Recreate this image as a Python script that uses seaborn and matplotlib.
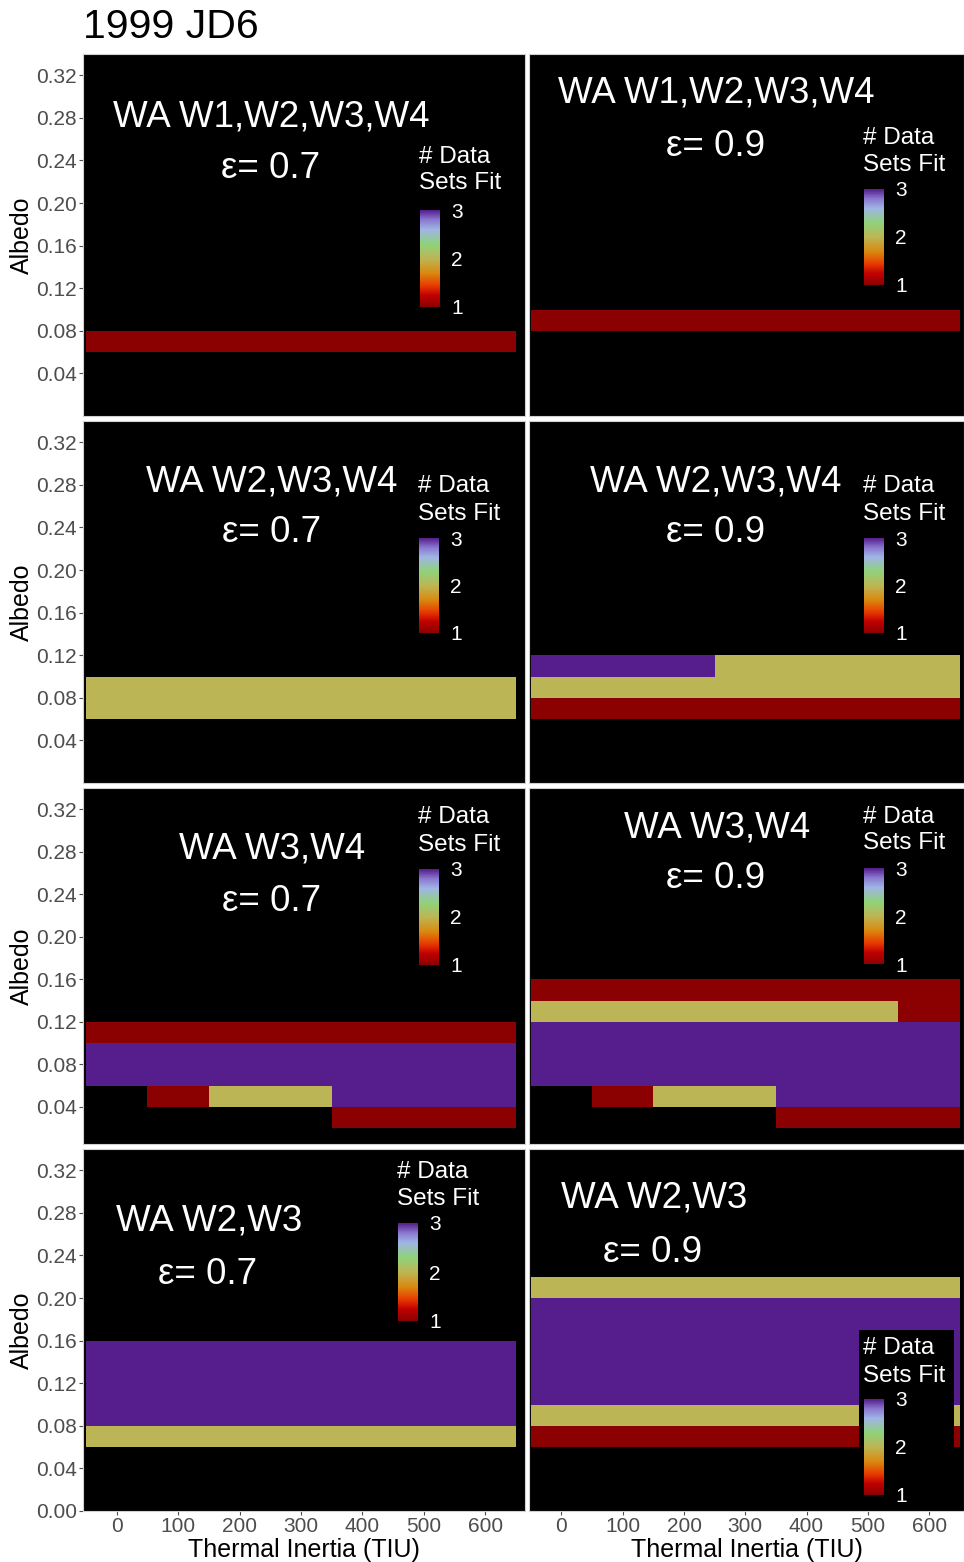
import numpy as np
import pandas as pd
import matplotlib
matplotlib.use("Agg")
import matplotlib.pyplot as plt
import seaborn as sns
from matplotlib.colors import LinearSegmentedColormap
from matplotlib.patches import Rectangle

sns.set_theme(style="white")
plt.rcParams["font.family"] = ["Liberation Sans", "DejaVu Sans"]

# ---------------- data ----------------
TI = [0, 100, 200, 300, 400, 500, 600]
ALBEDO = [0.01, 0.03, 0.05, 0.07, 0.09, 0.11, 0.13, 0.15, 0.17,
          0.19, 0.21, 0.23, 0.25, 0.27, 0.29, 0.31, 0.33]
Y_TICKS_UPPER = [0.04, 0.08, 0.12, 0.16, 0.20, 0.24, 0.28, 0.32]
Y_TICKS_BOTTOM = [0.00, 0.04, 0.08, 0.12, 0.16, 0.20, 0.24, 0.28, 0.32]
X_TICKS = [0, 100, 200, 300, 400, 500, 600]

# rows: albedo bin centre -> number of data sets fit for each TI column
W1234_e07 = {0.07: [1, 1, 1, 1, 1, 1, 1]}
W1234_e09 = {0.09: [1, 1, 1, 1, 1, 1, 1]}
W234_e07 = {0.07: [2, 2, 2, 2, 2, 2, 2],
            0.09: [2, 2, 2, 2, 2, 2, 2]}
W234_e09 = {0.07: [1, 1, 1, 1, 1, 1, 1],
            0.09: [2, 2, 2, 2, 2, 2, 2],
            0.11: [3, 3, 3, 2, 2, 2, 2]}
W34_e07 = {0.03: [0, 0, 0, 0, 1, 1, 1],
           0.05: [0, 1, 2, 2, 3, 3, 3],
           0.07: [3, 3, 3, 3, 3, 3, 3],
           0.09: [3, 3, 3, 3, 3, 3, 3],
           0.11: [1, 1, 1, 1, 1, 1, 1]}
W34_e09 = {0.03: [0, 0, 0, 0, 1, 1, 1],
           0.05: [0, 1, 2, 2, 3, 3, 3],
           0.07: [3, 3, 3, 3, 3, 3, 3],
           0.09: [3, 3, 3, 3, 3, 3, 3],
           0.11: [3, 3, 3, 3, 3, 3, 3],
           0.13: [2, 2, 2, 2, 2, 2, 1],
           0.15: [1, 1, 1, 1, 1, 1, 1]}
W23_e07 = {0.07: [2, 2, 2, 2, 2, 2, 2],
           0.09: [3, 3, 3, 3, 3, 3, 3],
           0.11: [3, 3, 3, 3, 3, 3, 3],
           0.13: [3, 3, 3, 3, 3, 3, 3],
           0.15: [3, 3, 3, 3, 3, 3, 3]}
W23_e09 = {0.07: [1, 1, 1, 1, 1, 1, 1],
           0.09: [2, 2, 2, 2, 2, 2, 2],
           0.11: [3, 3, 3, 3, 3, 3, 3],
           0.13: [3, 3, 3, 3, 3, 3, 3],
           0.15: [3, 3, 3, 3, 3, 3, 3],
           0.17: [3, 3, 3, 3, 3, 3, 3],
           0.19: [3, 3, 3, 3, 3, 3, 3],
           0.21: [2, 2, 2, 2, 2, 2, 2]}

BANDS = ["WA W1,W2,W3,W4", "WA W1,W2,W3,W4", "WA W2,W3,W4", "WA W2,W3,W4",
         "WA W3,W4", "WA W3,W4", "WA W2,W3", "WA W2,W3"]
EMISSIVITY = ["0.7", "0.9", "0.7", "0.9", "0.7", "0.9", "0.7", "0.9"]
PANEL_DATA = [W1234_e07, W1234_e09, W234_e07, W234_e09,
              W34_e07, W34_e09, W23_e07, W23_e09]

# ---------------- layout (pixels) ----------------
W, H = 964, 1562
ROWS = [(54, 416), (421, 783), (788, 1144), (1149, 1511)]
COLS = [(83, 525), (529, 964)]
YLIMS = [(0.0, 0.34), (0.0, 0.34), (0.005, 0.34), (0.0, 0.34)]
XLIMS = [(-55, 665), (-53, 657)]

# (band_x, band_y, eps_x, eps_y, legend_x, title_y1, title_y2, cb_top, cb_bot)
LAYOUT = [
    (271, 117, 271, 168, 419, 157, 183, 210, 307),
    (716, 93, 716, 146, 863, 138, 165, 189, 285),
    (272, 482, 272, 533, 418, 486, 514, 538, 633),
    (716, 482, 716, 533, 863, 486, 514, 538, 633),
    (272, 849, 272, 901, 418, 817, 845, 869, 965),
    (717, 828, 716, 879, 863, 817, 843, 868, 964),
    (209, 1221, 208, 1274, 397, 1172, 1199, 1223, 1321),
    (654, 1198, 653, 1252, 863, 1348, 1376, 1399, 1495),
]

cmap = LinearSegmentedColormap.from_list("fits", [
    (0.0, "#8B0000"), (0.12, "#C00000"), (0.22, "#E83A00"),
    (0.35, "#D98A10"), (0.5, "#BDB555"), (0.65, "#8FD27A"),
    (0.8, "#9FB5E5"), (0.9, "#8A78D0"), (1.0, "#561D8C")])

TICK_GRAY = "#4D4D4D"

fig = plt.figure(figsize=(W / 100, H / 100), dpi=100)


def fx(x):
    return x / W


def fy(y):
    return 1 - y / H


fig.text(fx(83), fy(27), "1999 JD6", fontsize=29.5, color="black",
         ha="left", va="center")

for k in range(8):
    r, c = k // 2, k % 2
    y0, y1 = ROWS[r]
    x0, x1 = COLS[c]
    ax = fig.add_axes([fx(x0), fy(y1), (x1 - x0) / W, (y1 - y0) / H])
    bx, by, ex, ey, lx, ty1, ty2, cbt, cbb = LAYOUT[k]
    cax = fig.add_axes([fx(lx + 1), fy(cbb), 20 / W, (cbb - cbt) / H])

    mat = np.zeros((len(ALBEDO), len(TI)))
    for centre, vals in PANEL_DATA[k].items():
        i = int(round((centre - ALBEDO[0]) / 0.02))
        mat[i] = vals
    df = pd.DataFrame(mat, index=ALBEDO, columns=TI)

    sns.heatmap(df, ax=ax, cmap=cmap, vmin=1, vmax=3, mask=(df == 0),
                cbar=True, cbar_ax=cax, xticklabels=False, yticklabels=False,
                linewidths=0)
    ax.set_facecolor("black")
    xl = XLIMS[c]
    ax.set_xlim((xl[0] + 50) / 100, (xl[1] + 50) / 100)
    yl = YLIMS[r]
    ax.set_ylim(yl[0] / 0.02, yl[1] / 0.02)
    for s in ax.spines.values():
        s.set_visible(True)
        s.set_color("#D0D0D0")
        s.set_linewidth(0.8)

    # y axis
    if c == 0:
        yt = Y_TICKS_BOTTOM if r == 3 else Y_TICKS_UPPER
        ax.set_yticks([v / 0.02 for v in yt])
        ax.set_yticklabels([f"{v:.2f}" for v in yt])
        ax.tick_params(axis="y", left=True, length=3, width=0.8,
                       color=TICK_GRAY, labelcolor=TICK_GRAY,
                       labelsize=15, pad=1.5, labelrotation=0)
        fig.text(0.0228, fy((y0 + y1) / 2), "Albedo", rotation=90,
                 fontsize=18, color="black", ha="center", va="center")
    else:
        ax.set_yticks([])
    ax.set_ylabel("")

    # x axis
    if r == 3:
        ax.set_xticks([(v + 50) / 100 for v in X_TICKS])
        ax.set_xticklabels([str(v) for v in X_TICKS])
        ax.tick_params(axis="x", bottom=True, length=3, width=0.8,
                       color=TICK_GRAY, labelcolor=TICK_GRAY,
                       labelsize=15, pad=1.5, labelrotation=0)
        ax.set_xlabel("Thermal Inertia (TIU)", fontsize=18, color="black",
                      labelpad=1)
    else:
        ax.set_xticks([])
        ax.set_xlabel("")

    # panel annotations
    fig.text(fx(bx), fy(by), BANDS[k], fontsize=26.5, color="white",
             ha="center", va="center")
    fig.text(fx(ex), fy(ey), "\u03b5= " + EMISSIVITY[k], fontsize=26.5,
             color="white", ha="center", va="center")

    if k == 7:
        ax.add_patch(Rectangle((fx(859), fy(1510)), 95 / W, 180 / H,
                               transform=fig.transFigure, facecolor="black",
                               edgecolor="none", zorder=5, clip_on=False))

    # colour bar legend
    cbar = ax.collections[0].colorbar
    cbar.set_ticks([1, 2, 3])
    cbar.set_ticklabels(["1", "2", "3"])
    cbar.outline.set_visible(False)
    cax.tick_params(axis="y", length=0, colors="white", labelsize=15, pad=8)
    fig.text(fx(lx), fy(ty1), "# Data", fontsize=17.5, color="white",
             ha="left", va="center")
    fig.text(fx(lx), fy(ty2), "Sets Fit", fontsize=17.5, color="white",
             ha="left", va="center")

fig.savefig("out.png", dpi=100, facecolor="white")
